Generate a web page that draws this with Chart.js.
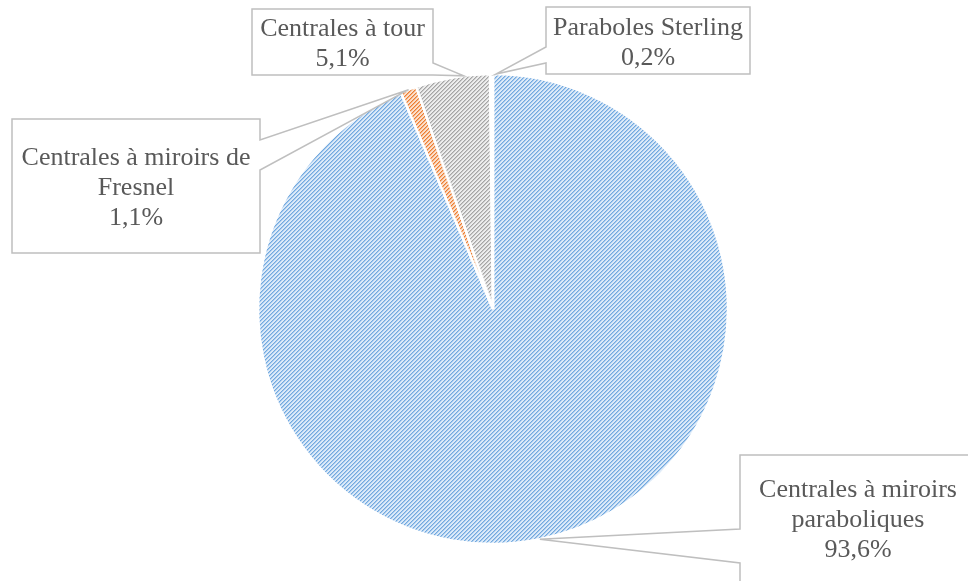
<!DOCTYPE html>
<html lang="fr">
<head>
<meta charset="utf-8">
<script src="https://cdn.jsdelivr.net/npm/chart.js@4/dist/chart.umd.min.js"></script>
<style>
html, body { margin: 0; padding: 0; background: #fff; }
#wrap { width: 968px; height: 581px; }
</style>
</head>
<body>
<div id="wrap"><canvas id="pieChart" width="968" height="581"></canvas></div>
<script>
const categories = [
    "Centrales à miroirs paraboliques",
    "Centrales à miroirs de Fresnel",
    "Centrales à tour",
    "Paraboles Sterling"
];
const shares = [93.6, 1.1, 5.1, 0.2];

// callout boxes, same order as categories (layout only)
const calloutBoxes = [
    { x: 740, y: 455, w: 236, h: 140, ty: 518, side: "left", a: 529, b: 563, at: 0.5 },
    { x: 12, y: 119, w: 248, h: 134, side: "right", a: 140, b: 170, at: 0.5 },
    { x: 252, y: 9, w: 181, h: 66, side: "right", a: 63, b: 75, at: 0.65 },
    { x: 546, y: 7, w: 204, h: 67, side: "left", a: 47, b: 63, at: 2 }
];

function hatch(dark, mid, light) {
    const size = 4;
    const tile = document.createElement("canvas");
    tile.width = size;
    tile.height = size;
    const tctx = tile.getContext("2d");
    for (let x = 0; x < size; x++) {
        for (let y = 0; y < size; y++) {
            const k = (x + y) % size;
            tctx.fillStyle = k === 0 ? dark : (k === 1 ? mid : light);
            tctx.fillRect(x, y, 1, 1);
        }
    }
    return document.getElementById("pieChart").getContext("2d").createPattern(tile, "repeat");
}

function formatShare(v) {
    return v.toFixed(1).replace(".", ",") + "%";
}

function wrapText(ctx, text, maxWidth) {
    const words = text.split(" ");
    const lines = [];
    let line = "";
    words.forEach(word => {
        const test = line ? line + " " + word : word;
        if (ctx.measureText(test).width > maxWidth && line) {
            lines.push(line);
            line = word;
        } else {
            line = test;
        }
    });
    if (line) lines.push(line);
    return lines;
}

const calloutPlugin = {
    id: "callouts",
    afterDraw(chart) {
        const ctx = chart.ctx;
        const meta = chart.getDatasetMeta(0);
        ctx.save();
        ctx.font = '26px "Liberation Serif", "Times New Roman", serif';
        meta.data.forEach((arc, i) => {
            const box = calloutBoxes[i];
            if (!box) return;
            const ang = arc.startAngle + box.at * (arc.endAngle - arc.startAngle);
            const tipX = arc.x + Math.cos(ang) * arc.outerRadius;
            const tipY = arc.y + Math.sin(ang) * arc.outerRadius;

            ctx.beginPath();
            if (box.side === "left") {
                ctx.moveTo(box.x, box.y);
                ctx.lineTo(box.x + box.w, box.y);
                ctx.lineTo(box.x + box.w, box.y + box.h);
                ctx.lineTo(box.x, box.y + box.h);
                ctx.lineTo(box.x, box.b);
                ctx.lineTo(tipX, tipY);
                ctx.lineTo(box.x, box.a);
            } else {
                ctx.moveTo(box.x, box.y);
                ctx.lineTo(box.x + box.w, box.y);
                ctx.lineTo(box.x + box.w, box.a);
                ctx.lineTo(tipX, tipY);
                ctx.lineTo(box.x + box.w, box.b);
                ctx.lineTo(box.x + box.w, box.y + box.h);
                ctx.lineTo(box.x, box.y + box.h);
            }
            ctx.closePath();
            ctx.fillStyle = "#ffffff";
            ctx.fill();
            ctx.strokeStyle = "#bfbfbf";
            ctx.lineWidth = 1.5;
            ctx.stroke();

            const lines = wrapText(ctx, chart.data.labels[i], box.w - 10);
            lines.push(formatShare(chart.data.datasets[0].data[i]));
            const cx = box.x + box.w / 2;
            const cy = box.ty || (box.y + box.h / 2);
            ctx.fillStyle = "#595959";
            ctx.textAlign = "center";
            ctx.textBaseline = "alphabetic";
            lines.forEach((t, j) => {
                ctx.fillText(t, cx, cy + 9 + (j - (lines.length - 1) / 2) * 30);
            });
        });
        ctx.restore();
    }
};

new Chart(document.getElementById("pieChart"), {
    type: "pie",
    data: {
        labels: categories,
        datasets: [{
            data: shares,
            backgroundColor: [
                hatch("#72a9de", "#a6c9ee", "#dceaf8"),
                hatch("#ed7d31", "#f4b183", "#fbe0cc"),
                hatch("#a5a5a5", "#c9c9c9", "#ededed"),
                "#ffffff"
            ],
            borderColor: "#ffffff",
            borderWidth: 2.5,
            radius: 235
        }]
    },
    options: {
        responsive: false,
        animation: false,
        devicePixelRatio: 1,
        layout: { padding: { left: 256, right: 238, top: 72, bottom: 35 } },
        plugins: {
            legend: { display: false },
            tooltip: { enabled: false }
        }
    },
    plugins: [calloutPlugin]
});
</script>
</body>
</html>
